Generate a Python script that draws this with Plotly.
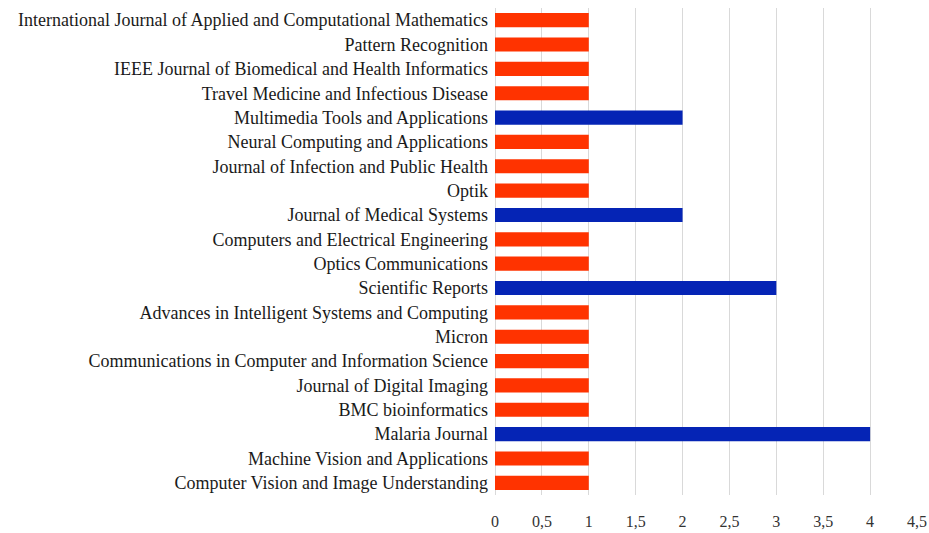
import plotly.graph_objects as go

journals = [
    "International Journal of Applied and Computational Mathematics",
    "Pattern Recognition",
    "IEEE Journal of Biomedical and Health Informatics",
    "Travel Medicine and Infectious Disease",
    "Multimedia Tools and Applications",
    "Neural Computing and Applications",
    "Journal of Infection and Public Health",
    "Optik",
    "Journal of Medical Systems",
    "Computers and Electrical Engineering",
    "Optics Communications",
    "Scientific Reports",
    "Advances in Intelligent Systems and Computing",
    "Micron",
    "Communications in Computer and Information Science",
    "Journal of Digital Imaging",
    "BMC bioinformatics",
    "Malaria Journal",
    "Machine Vision and Applications",
    "Computer Vision and Image Understanding",
]
counts = [1, 1, 1, 1, 2, 1, 1, 1, 2, 1, 1, 3, 1, 1, 1, 1, 1, 4, 1, 1]
tick_vals = [0, 0.5, 1, 1.5, 2, 2.5, 3, 3.5, 4, 4.5]
tick_text = ["0", "0,5", "1", "1,5", "2", "2,5", "3", "3,5", "4", "4,5"]

RED = "#FF3300"
BLUE = "#0524B5"
colors = [BLUE if c > 1 else RED for c in counts]

fig = go.Figure(go.Bar(
    x=counts, y=journals, orientation="h",
    marker=dict(color=colors, line=dict(width=0)),
))
fig.update_layout(
    width=929, height=533,
    margin=dict(l=495, r=12, t=8, b=38, autoexpand=False),
    paper_bgcolor="white", plot_bgcolor="white",
    font=dict(family="Liberation Serif", size=16, color="#222222"),
    bargap=0.42,
    showlegend=False,
)
fig.update_xaxes(
    range=[0, 4.5], tickvals=tick_vals, ticktext=tick_text,
    showgrid=True, gridcolor="#d9d9d9", gridwidth=1,
    zeroline=True, zerolinecolor="#d9d9d9", zerolinewidth=1,
    showline=False, ticks="", ticklabelstandoff=15, automargin=False,
    tickfont=dict(size=16, color="#333333"),
)
fig.update_yaxes(
    autorange="reversed", showgrid=False, showline=False, ticks="",
    ticklabelstandoff=6, automargin=False,
    tickfont=dict(size=18, color="#1a1a1a"),
)
fig.write_html(
    "out.html",
    config={"displayModeBar": False},
    post_script="document.body.style.margin='0';document.body.style.overflow='hidden';",
)
